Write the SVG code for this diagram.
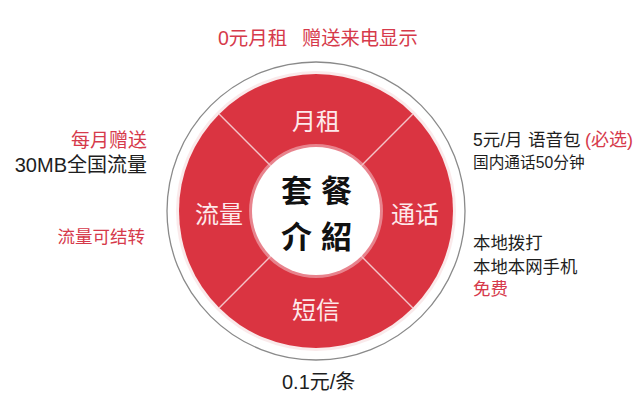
<svg xmlns="http://www.w3.org/2000/svg" width="640" height="407" viewBox="0 0 640 407">
<defs>
<style>
.t{font-family:"Liberation Sans","Noto Sans CJK SC",sans-serif;dominant-baseline:central}
.red{fill:#d63a4b}
.dark{fill:#1e1e1e}
.seg{fill:#fde9eb;font-size:24px;text-anchor:middle}
.cal{font-family:"Noto Sans CJK SC",sans-serif;font-weight:700;font-size:31px;fill:#111;text-anchor:middle;dominant-baseline:central;letter-spacing:9px}
.div{stroke:#f4c3c8;stroke-width:1.4}
</style>
</defs>
<rect width="640" height="407" fill="#ffffff"/>

<g id="wheel">
<circle cx="316" cy="211" r="149" fill="#ffffff" stroke="#8a8a8a" stroke-width="1.3"/>
<circle cx="316" cy="211" r="140" fill="#f6d5d8" opacity="0.5"/>
<circle cx="316" cy="211" r="137" fill="#da3441"/>
</g>

<g id="dividers">
<line class="div" x1="270.7" y1="165.7" x2="219.1" y2="114.1"/>
<line class="div" x1="361.3" y1="165.7" x2="412.9" y2="114.1"/>
<line class="div" x1="270.7" y1="256.3" x2="219.1" y2="307.9"/>
<line class="div" x1="361.3" y1="256.3" x2="412.9" y2="307.9"/>
</g>

<g id="center">
<circle cx="316" cy="211" r="67" fill="#f2b9bf" opacity="0.6"/>
<circle cx="316" cy="211" r="64" fill="#ffffff"/>
<text class="cal" x="321" y="188">套餐</text>
<text class="cal" x="321" y="234">介紹</text>
</g>

<g id="seg-yuezu"><text class="t seg" x="316" y="121">月租</text></g>
<g id="seg-liuliang"><text class="t seg" x="219" y="214">流量</text></g>
<g id="seg-tonghua"><text class="t seg" x="415" y="214">通话</text></g>
<g id="seg-duanxin"><text class="t seg" x="316" y="310">短信</text></g>

<g id="note-top">
<text class="t red" x="218" y="38" font-size="19.5">0元月租</text>
<text class="t red" x="302" y="38" font-size="19.3">赠送来电显示</text>
</g>

<g id="note-left">
<text class="t red" x="147" y="140" font-size="19" text-anchor="end">每月赠送</text>
<text class="t dark" x="147" y="165" font-size="20" text-anchor="end">30MB全国流量</text>
<text class="t red" x="145" y="237" font-size="17.5" text-anchor="end">流量可结转</text>
</g>

<g id="note-right">
<text class="t dark" x="473" y="140" font-size="17.5">5元/月</text>
<text class="t dark" x="528" y="140" font-size="17.5">语音包</text>
<text class="t red" x="585" y="140" font-size="18">(必选)</text>
<text class="t dark" x="473" y="162" font-size="15.7">国内通话50分钟</text>
<text class="t dark" x="473" y="243" font-size="17.4">本地拨打</text>
<text class="t dark" x="473" y="267" font-size="17.4">本地本网手机</text>
<text class="t red" x="473" y="289" font-size="17.5">免费</text>
</g>

<g id="note-bottom">
<text class="t dark" x="282" y="382" font-size="20">0.1元/条</text>
</g>
</svg>
